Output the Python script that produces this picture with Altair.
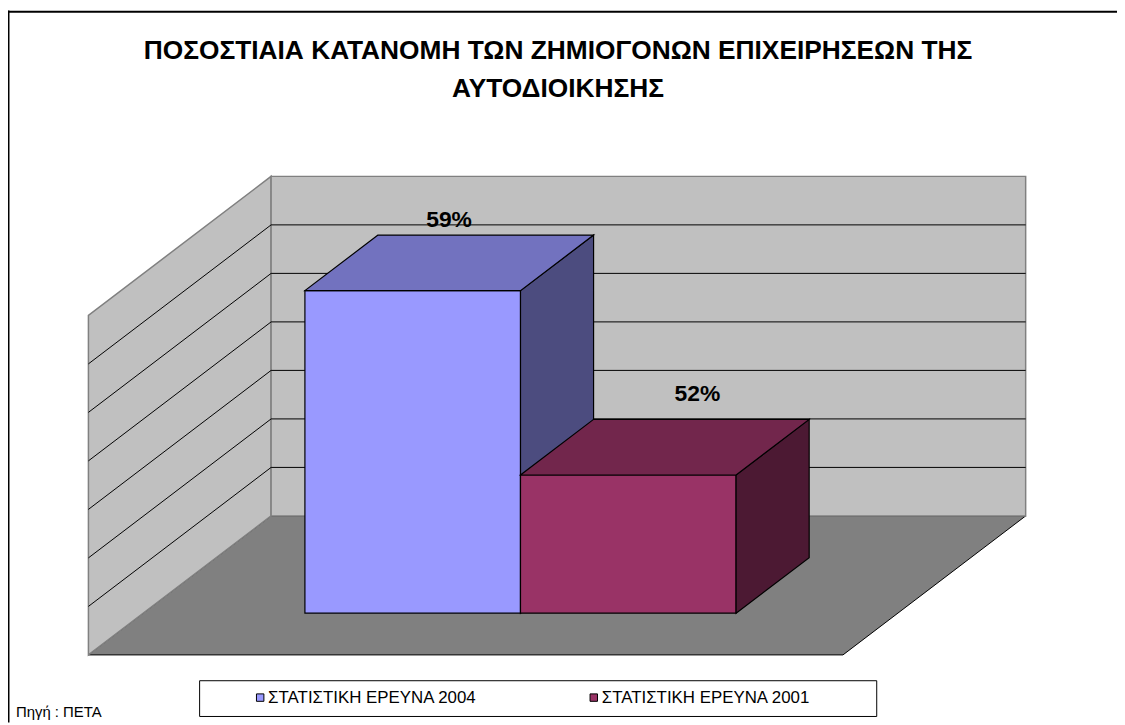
import altair as alt
import pandas as pd

# ---------------- data ----------------
categories = ["ΣΤΑΤΙΣΤΙΚΗ ΕΡΕΥΝΑ 2004", "ΣΤΑΤΙΣΤΙΚΗ ΕΡΕΥΝΑ 2001"]
values = [59.3, 51.7]
labels = ["59%", "52%"]
colors = ["#9999FF", "#993366"]
axis_min, axis_max, axis_step = 46, 60, 2
title_lines = ["ΠΟΣΟΣΤΙΑΙΑ ΚΑΤΑΝΟΜΗ ΤΩΝ ΖΗΜΙΟΓΟΝΩΝ ΕΠΙΧΕΙΡΗΣΕΩΝ ΤΗΣ", "ΑΥΤΟΔΙΟΙΚΗΣΗΣ"]
source_text = "Πηγή : ΠΕΤΑ"

# ---------------- layout / style ----------------
W, H = 1117, 717
PX0, PX1 = 81, 1025      # horizontal pixel span of the 3D box
PY0, PY1 = 649, 167      # vertical pixel span of the 3D box
DU = 0.2421              # horizontal shift of full depth (category units)
DV = 5.731               # vertical shift of full depth (value units)
GAP = 1.5                # gap width (bar widths)
D0, D1 = 0.3, 0.7        # bar depth extent
LABEL_NUDGE = [(-37, -8), (-4, -19)]
FONT = "Liberation Sans"

bw = 1.0 / (len(values) + GAP)
u_start = GAP / 2 * bw

xs = alt.Scale(domain=[0, 1 + DU], range=[PX0, PX1], nice=False, zero=False)
ys = alt.Scale(domain=[axis_min, axis_max + DV], range=[PY0, PY1], nice=False, zero=False)


def X(f):
    return alt.X(f, type="quantitative", scale=xs, axis=None)


def X2(f):
    return alt.X2(f)


def Y(f):
    return alt.Y(f, type="quantitative", scale=ys, axis=None)


def Y2(f):
    return alt.Y2(f)


def shade(hexcol, k):
    h = hexcol.lstrip("#")
    r, g, b = (int(h[i:i + 2], 16) for i in (0, 2, 4))
    return "#%02X%02X%02X" % (int(r * k), int(g * k), int(b * k))


layers = []

# floor
floor_df = pd.DataFrame({"v": [axis_min, axis_min + DV], "xa": [0, DU], "xb": [1, 1 + DU]})
layers.append(
    alt.Chart(floor_df).mark_area(orient="horizontal", fill="#808080", stroke="#000000", strokeWidth=1)
    .encode(y=Y("v"), x=X("xa"), x2=X2("xb"))
)

# side wall
side_df = pd.DataFrame({"u": [0, DU], "lo": [axis_min, axis_min + DV], "hi": [axis_max, axis_max + DV]})
layers.append(
    alt.Chart(side_df).mark_area(orient="vertical", fill="#C0C0C0", stroke="#808080", strokeWidth=1.5)
    .encode(x=X("u"), y=Y("lo"), y2=Y2("hi"))
)

# back wall
back_df = pd.DataFrame({"x": [DU], "x2": [1 + DU], "y": [axis_min + DV], "y2": [axis_max + DV]})
layers.append(
    alt.Chart(back_df).mark_rect(fill="#C0C0C0", stroke="#808080", strokeWidth=1.5)
    .encode(x=X("x"), x2=X2("x2"), y=Y("y"), y2=Y2("y2"))
)

# gridlines
ticks = list(range(axis_min + axis_step, axis_max, axis_step))
grid_rows = []
for t in ticks:
    grid_rows.append({"x": DU, "x2": 1 + DU, "y": t + DV, "y2": t + DV})
    grid_rows.append({"x": 0, "x2": DU, "y": t, "y2": t + DV})
grid_df = pd.DataFrame(grid_rows)
layers.append(
    alt.Chart(grid_df).mark_rule(color="#000000", strokeWidth=1)
    .encode(x=X("x"), x2=X2("x2"), y=Y("y"), y2=Y2("y2"))
)

# bars
for i, (cat, v, lab, col) in enumerate(zip(categories, values, labels, colors)):
    u0 = u_start + i * bw
    u1 = u0 + bw
    front_df = pd.DataFrame({"cat": [cat], "x": [u0 + D0 * DU], "x2": [u1 + D0 * DU],
                             "y": [axis_min + D0 * DV], "y2": [v + D0 * DV]})
    layers.append(
        alt.Chart(front_df).mark_rect(fill=col, stroke="#000000", strokeWidth=1.2)
        .encode(x=X("x"), x2=X2("x2"), y=Y("y"), y2=Y2("y2"))
    )
    sdf = pd.DataFrame({"x": [u1 + D0 * DU, u1 + D1 * DU],
                        "lo": [axis_min + D0 * DV, axis_min + D1 * DV],
                        "hi": [v + D0 * DV, v + D1 * DV]})
    layers.append(
        alt.Chart(sdf).mark_area(orient="vertical", fill=shade(col, 0.5), stroke="#000000", strokeWidth=1.2)
        .encode(x=X("x"), y=Y("lo"), y2=Y2("hi"))
    )
    tdf = pd.DataFrame({"y": [v + D0 * DV, v + D1 * DV],
                        "xa": [u0 + D0 * DU, u0 + D1 * DU],
                        "xb": [u1 + D0 * DU, u1 + D1 * DU]})
    layers.append(
        alt.Chart(tdf).mark_area(orient="horizontal", fill=shade(col, 0.75), stroke="#000000", strokeWidth=1.2)
        .encode(y=Y("y"), x=X("xa"), x2=X2("xb"))
    )
    ldf = pd.DataFrame({"lab": [lab], "x": [(u0 + u1) / 2 + D1 * DU], "y": [v + D1 * DV]})
    layers.append(
        alt.Chart(ldf).mark_text(font=FONT, fontSize=23, fontWeight="bold", color="#000000",
                                 align="center", baseline="alphabetic",
                                 dx=LABEL_NUDGE[i][0], dy=LABEL_NUDGE[i][1])
        .encode(x=X("x"), y=Y("y"), text="lab:N")
    )

# legend
leg_df = pd.DataFrame({"cat": categories, "idx": list(range(len(categories)))})
box_df = pd.DataFrame({"a": [0]})
layers.append(
    alt.Chart(box_df).mark_rect(fill="#FFFFFF", stroke="#000000", strokeWidth=1)
    .encode(x=alt.value(193), x2=alt.value(875), y=alt.value(675), y2=alt.value(711))
)
leg_x = alt.Scale(domain=[0, 1], range=[254, 590], nice=False, zero=False)
layers.append(
    alt.Chart(leg_df).mark_square(size=56, stroke="#000000", strokeWidth=1, opacity=1)
    .encode(x=alt.X("idx:Q", scale=leg_x, axis=None), y=alt.value(692),
            color=alt.Color("cat:N", scale=alt.Scale(domain=categories, range=colors), legend=None))
)
layers.append(
    alt.Chart(leg_df).mark_text(font=FONT, fontSize=17, align="left", baseline="middle", dx=8, color="#000000")
    .encode(x=alt.X("idx:Q", scale=leg_x, axis=None), y=alt.value(692), text="cat:N")
)

# title
for k, line in enumerate(title_lines):
    layers.append(
        alt.Chart(pd.DataFrame({"t": [line]})).mark_text(font=FONT, fontSize=26.5, fontWeight="bold",
                                                         align="center", baseline="middle", color="#000000")
        .encode(x=alt.value(554), y=alt.value(41 + 38 * k), text="t:N")
    )

# source
layers.append(
    alt.Chart(pd.DataFrame({"t": [source_text]})).mark_text(font=FONT, fontSize=15, align="left",
                                                            baseline="alphabetic", color="#000000")
    .encode(x=alt.value(8), y=alt.value(712), text="t:N")
)

# outer border (top and left)
layers.append(
    alt.Chart(box_df).mark_rule(color="#000000", strokeWidth=2)
    .encode(x=alt.value(0), x2=alt.value(W), y=alt.value(1.3))
)
layers.append(
    alt.Chart(box_df).mark_rule(color="#000000", strokeWidth=2)
    .encode(x=alt.value(0.5), y=alt.value(0), y2=alt.value(H))
)

chart = (
    alt.layer(*layers)
    .resolve_scale(x="independent", y="independent", color="independent")
    .properties(width=W, height=H, padding=0, autosize=alt.AutoSizeParams(type="none"),
                background="#FFFFFF")
    .configure_view(stroke=None)
)

chart.save("out.html", embed_options={"renderer": "svg", "actions": False})
